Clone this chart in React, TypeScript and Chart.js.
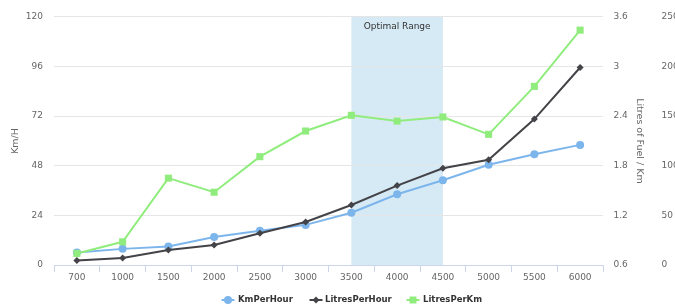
import React, { useEffect, useRef } from 'react';
import { Chart, registerables } from 'chart.js';

Chart.register(...registerables);

const categories = ['700', '1000', '1500', '2000', '2500', '3000', '3500', '4000', '4500', '5000', '5500', '6000'];
const kmPerHour = [6, 7.8, 9, 13.5, 16.6, 19.4, 25.3, 34.2, 41, 48.5, 53.6, 58.1];
const litresPerHour = [4.5, 7, 15, 20.2, 32, 43.3, 60.5, 80, 97.5, 106, 147, 199];
const litresPerKm = [0.74, 0.88, 1.65, 1.48, 1.91, 2.22, 2.41, 2.34, 2.39, 2.18, 2.76, 3.44];
const speedTicks = [0, 24, 48, 72, 96, 120];
const fuelKmTicks = [0.6, 1.2, 1.8, 2.4, 3, 3.6];
const fuelHourTicks = [0, 50, 100, 150, 200, 250];
const bandFrom = '3500';
const bandTo = '4500';
const bandLabel = 'Optimal Range';

const BLUE = '#7cb5ec';
const BLACK = '#434348';
const GREEN = '#90ed7d';
const FONT = '"DejaVu Sans", sans-serif';

const legendItems = [
  { label: 'KmPerHour', color: BLUE, shape: 'circle', mx: 228, tx: 238 },
  { label: 'LitresPerHour', color: BLACK, shape: 'diamond', mx: 316, tx: 325 },
  { label: 'LitresPerKm', color: GREEN, shape: 'square', mx: 413, tx: 423 },
];

function drawMarker(ctx: CanvasRenderingContext2D, shape: string, x: number, y: number, color: string) {
  ctx.save();
  ctx.fillStyle = color;
  ctx.beginPath();
  if (shape === 'circle') {
    ctx.arc(x, y, 4, 0, Math.PI * 2);
  } else if (shape === 'diamond') {
    ctx.moveTo(x, y - 3.5);
    ctx.lineTo(x + 3.5, y);
    ctx.lineTo(x, y + 3.5);
    ctx.lineTo(x - 3.5, y);
    ctx.closePath();
  } else {
    ctx.rect(x - 3.5, y - 3.5, 7, 7);
  }
  ctx.fill();
  ctx.restore();
}

const bandPlugin = {
  id: 'bandPlugin',
  beforeDraw(chart: any) {
    const { ctx, chartArea, scales } = chart;
    const x = scales.x;
    const x0 = x.getPixelForValue(categories.indexOf(bandFrom));
    const x1 = x.getPixelForValue(categories.indexOf(bandTo));
    ctx.save();
    ctx.fillStyle = 'rgba(68, 160, 210, 0.22)';
    ctx.fillRect(x0, chartArea.top, x1 - x0, chartArea.bottom - chartArea.top);
    ctx.restore();
  },
  afterDraw(chart: any) {
    const { ctx, chartArea, scales } = chart;
    const x = scales.x;
    const x0 = x.getPixelForValue(categories.indexOf(bandFrom));
    const x1 = x.getPixelForValue(categories.indexOf(bandTo));
    ctx.save();
    ctx.fillStyle = '#333333';
    ctx.font = `9px ${FONT}`;
    ctx.textAlign = 'center';
    ctx.textBaseline = 'middle';
    ctx.fillText(bandLabel, (x0 + x1) / 2, chartArea.top + 10);

    // legend
    const ly = 300;
    legendItems.forEach((it) => {
      ctx.strokeStyle = it.color;
      ctx.lineWidth = 2;
      ctx.beginPath();
      ctx.moveTo(it.mx - 6.5, ly);
      ctx.lineTo(it.mx + 6.5, ly);
      ctx.stroke();
      drawMarker(ctx, it.shape, it.mx, ly, it.color);
      ctx.fillStyle = '#333333';
      ctx.font = `bold 8.5px ${FONT}`;
      ctx.textAlign = 'left';
      ctx.textBaseline = 'middle';
      ctx.fillText(it.label, it.tx, ly);
    });
    ctx.restore();
  },
};

export default function App() {
  const ref = useRef<HTMLCanvasElement | null>(null);

  useEffect(() => {
    if (!ref.current) return;
    const tickFont = { family: FONT, size: 9 };
    const titleFont = { family: FONT, size: 9.5 };
    const chart = new Chart(ref.current, {
      type: 'line',
      data: {
        labels: categories,
        datasets: [
          {
            label: 'KmPerHour',
            data: kmPerHour,
            yAxisID: 'y',
            borderColor: BLUE,
            backgroundColor: BLUE,
            borderWidth: 2,
            pointStyle: 'circle',
            pointRadius: 4,
            pointBorderWidth: 0,
            tension: 0,
            order: 2,
          },
          {
            label: 'LitresPerHour',
            data: litresPerHour,
            yAxisID: 'y2',
            borderColor: BLACK,
            backgroundColor: BLACK,
            borderWidth: 2,
            pointStyle: 'rectRot',
            pointRadius: 3.5,
            pointBorderWidth: 0,
            tension: 0,
            order: 1,
          },
          {
            label: 'LitresPerKm',
            data: litresPerKm,
            yAxisID: 'y1',
            borderColor: GREEN,
            backgroundColor: GREEN,
            borderWidth: 2,
            pointStyle: 'rect',
            pointRadius: 5,
            pointBorderWidth: 0,
            tension: 0,
            order: 0,
          },
        ],
      },
      options: {
        responsive: false,
        animation: false,
        devicePixelRatio: 1,
        layout: { padding: { top: 16, left: 0, right: 0, bottom: 0 } },
        plugins: {
          legend: { display: false },
          tooltip: { enabled: false },
        },
        scales: {
          x: {
            type: 'category',
            position: 'bottom',
            offset: true,
            grid: {
              display: true,
              drawOnChartArea: false,
              drawTicks: true,
              tickLength: 7,
              color: '#ccd6eb',
              offset: true,
            },
            border: { display: true, color: '#ccd6eb' },
            ticks: { color: '#666666', font: tickFont, padding: 0.5, maxRotation: 0, autoSkip: false },
            afterFit: (s: any) => {
              s.height = 39;
            },
          },
          y: {
            position: 'left',
            min: 0,
            max: 120,
            afterBuildTicks: (s: any) => {
              s.ticks = speedTicks.map((v) => ({ value: v }));
            },
            grid: { color: '#e6e6e6', drawTicks: false },
            border: { display: false },
            ticks: { color: '#666666', font: tickFont, padding: 11 },
            title: {
              display: true,
              text: 'Km/H',
              color: '#666666',
              font: titleFont,
              padding: { top: 10, bottom: 0 },
            },
            afterFit: (s: any) => {
              s.width = 54;
            },
          },
          y1: {
            position: 'right',
            min: 0.6,
            max: 3.6,
            afterBuildTicks: (s: any) => {
              s.ticks = fuelKmTicks.map((v) => ({ value: v }));
            },
            grid: { display: false, drawTicks: false },
            border: { display: false },
            ticks: {
              color: '#666666',
              font: tickFont,
              padding: 10.5,
              callback: (v: any) => String(Math.round(Number(v) * 10) / 10),
            },
            title: {
              display: true,
              text: 'Litres of Fuel / Km',
              color: '#666666',
              font: titleFont,
              padding: { top: 5, bottom: 0 },
            },
            afterFit: (s: any) => {
              s.width = 47;
            },
          },
          y2: {
            position: 'right',
            min: 0,
            max: 250,
            afterBuildTicks: (s: any) => {
              s.ticks = fuelHourTicks.map((v) => ({ value: v }));
            },
            grid: { display: false, drawTicks: false },
            border: { display: false },
            ticks: { color: '#666666', font: tickFont, padding: 11.5 },
            afterFit: (s: any) => {
              s.width = 25;
            },
          },
        },
      } as any,
      plugins: [bandPlugin],
    });
    return () => chart.destroy();
  }, []);

  return (
    <div style={{ position: 'absolute', left: 0, top: 0, width: 675, height: 304 }}>
      <canvas ref={ref} width={675} height={304} style={{ display: 'block' }} />
    </div>
  );
}
